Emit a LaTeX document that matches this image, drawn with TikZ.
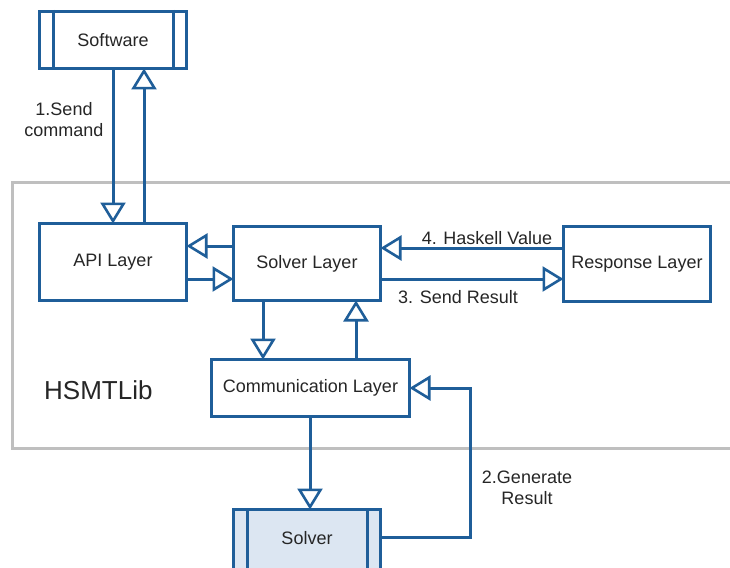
\documentclass[tikz,border=0pt]{standalone}
\usepackage{fontspec}
\setmainfont{Liberation Sans}
\usetikzlibrary{arrows.meta}
\definecolor{vblue}{HTML}{1F5E99}
\definecolor{vgray}{HTML}{BFBFBF}
\definecolor{vfill}{HTML}{DCE6F2}
\definecolor{vtext}{HTML}{262626}
\tikzset{
  layer/.style={draw=vblue, line width=3pt, fill=white, inner sep=0pt, outer sep=0pt,
    font=\fontsize{18}{21}\selectfont, text=vtext},
  lbl/.style={font=\fontsize{18}{21}\selectfont, text=vtext, inner sep=0pt, align=center},
  conn/.style={draw=vblue, line width=3pt},
  arr/.style={conn, -{Triangle[open, length=21pt, width=25pt, line width=2.6pt]}},
}
\begin{document}
\begin{tikzpicture}[x=1pt, y=-1pt]
\clip (0,0) rectangle (730,567);
\fill[white] (0,0) rectangle (730,567);
% HSMTLib container
\draw[vgray, line width=3pt] (12,182) rectangle (760,448);
\node[lbl, font=\fontsize{26}{30}\selectfont, anchor=west] (hs) at (44,390) {HSMTLib};

% boxes
\node[layer, minimum width=147pt, minimum height=57pt] (sw) at (113,40) {Software};
\draw[conn] (53,10) -- (53,70);
\draw[conn] (173,10) -- (173,70);
\node[layer, minimum width=147pt, minimum height=77pt] (api) at (113,262) {API Layer};
\node[layer, minimum width=147pt, minimum height=74pt] (sl) at (307,263.5) {Solver Layer};
\node[layer, minimum width=147pt, minimum height=75pt] (rl) at (637,264) {Response Layer};
\node[layer, minimum width=198pt, minimum height=57pt] (cl) at (310.5,388) {Communication Layer};
\node[layer, fill=vfill, minimum width=147pt, minimum height=80pt] (sv) at (307,549.5) {};
\draw[conn] (247,508) -- (247,580);
\draw[conn] (367,508) -- (367,580);
\node[lbl] (svt) at (307,538) {Solver};

% helper coordinates
\coordinate (xa) at (113,0);
\coordinate (xb) at (144,0);
\coordinate (xc) at (263,0);
\coordinate (xd) at (356,0);
\coordinate (xe) at (310,0);
\coordinate (xf) at (470,0);
\coordinate (ya) at (0,246);
\coordinate (yb) at (0,279);
\coordinate (yc) at (0,248);
\coordinate (yd) at (0,388);
\coordinate (ye) at (0,537);

% connectors
\draw[arr] (sw.south -| xa) -- (api.north -| xa);
\draw[arr] (api.north -| xb) -- (sw.south -| xb);
\draw[arr] (sl.west |- ya) -- (api.east |- ya);
\draw[arr] (api.east |- yb) -- (sl.west |- yb);
\draw[arr] (rl.west |- yc) -- (sl.east |- yc);
\draw[arr] (sl.east |- yb) -- (rl.west |- yb);
\draw[arr] (sl.south -| xc) -- (cl.north -| xc);
\draw[arr] (cl.north -| xd) -- (sl.south -| xd);
\draw[arr] (cl.south -| xe) -- (sv.north -| xe);
\draw[arr] (sv.east |- ye) -| (xf |- yd) -- (cl.east |- yd);

% labels
\node[lbl] (l1) at (64,120) {1.Send\\command};
\node[lbl] (l4) at (487,238) {4. Haskell Value};
\node[lbl] (l3) at (458,297) {3. Send Result};
\node[lbl] (l2) at (527,488) {2.Generate\\Result};
\end{tikzpicture}
\end{document}
